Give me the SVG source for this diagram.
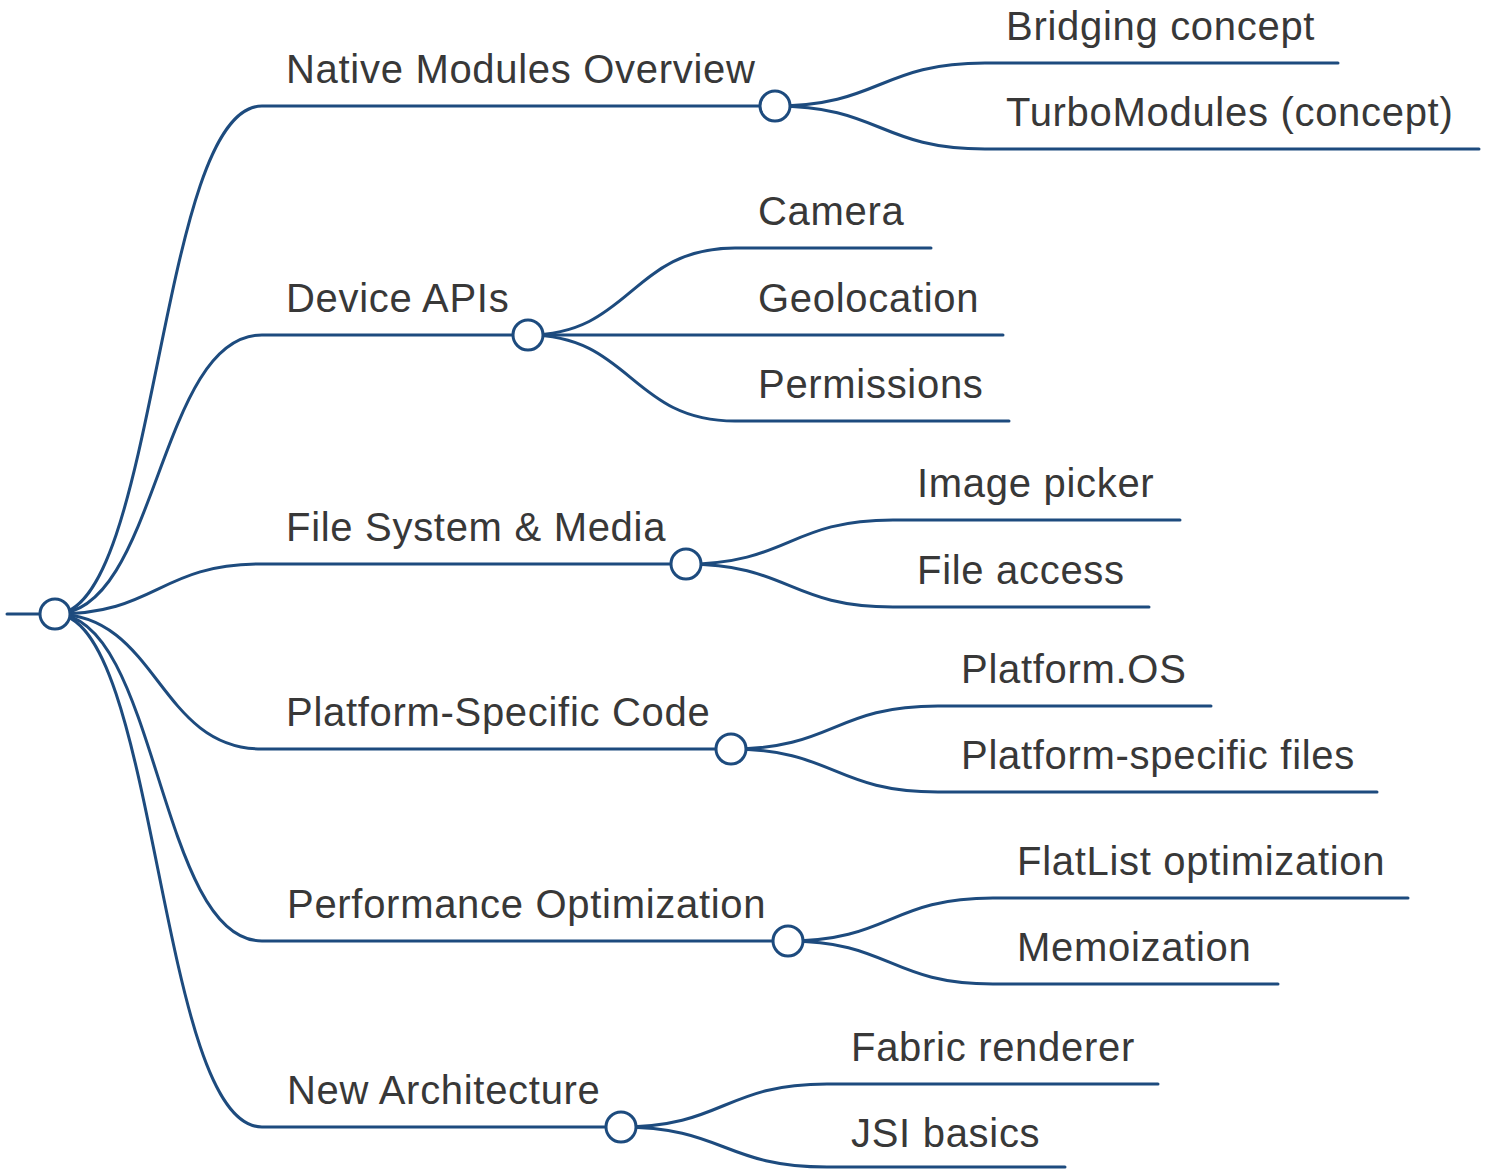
<svg xmlns="http://www.w3.org/2000/svg" width="1491" height="1169" viewBox="0 0 1491 1169">
<style>
.l{fill:none;stroke:#1d4b7e;stroke-width:3;stroke-linecap:round}
.c{fill:#fff;stroke:#1d4b7e;stroke-width:3}
text{font-family:"Liberation Sans",Arial,sans-serif;font-size:40px;letter-spacing:0.7px;fill:#383838}
</style>
<rect width="1491" height="1169" fill="#fff"/>
<g id="connectors">
<path class="l" d="M7 614H55"/>
<path class="l" d="M55 614C158 614 158 106 262 106H775"/>
<path class="l" d="M55 614C158 614 158 335 262 335H528"/>
<path class="l" d="M55 614C158 614 158 564 262 564H686"/>
<path class="l" d="M55 614C158 614 158 749 262 749H731"/>
<path class="l" d="M55 614C158 614 158 941 262 941H788"/>
<path class="l" d="M55 614C158 614 158 1127 262 1127H621"/>
<path class="l" d="M775 106C880 106 880 63 985 63H1338"/>
<path class="l" d="M775 106C880 106 880 149 985 149H1479"/>
<path class="l" d="M528 335C631 335 631 248 735 248H931"/>
<path class="l" d="M528 335H1003"/>
<path class="l" d="M528 335C631 335 631 421 735 421H1009"/>
<path class="l" d="M686 564C789 564 789 520 893 520H1180"/>
<path class="l" d="M686 564C789 564 789 607 893 607H1149"/>
<path class="l" d="M731 749C834 749 834 706 938 706H1211"/>
<path class="l" d="M731 749C834 749 834 792 938 792H1377"/>
<path class="l" d="M788 941C890 941 890 898 993 898H1408"/>
<path class="l" d="M788 941C890 941 890 984 993 984H1278"/>
<path class="l" d="M621 1127C724 1127 724 1084 827 1084H1158"/>
<path class="l" d="M621 1127C724 1127 724 1167 827 1167H1065"/>
</g>
<g id="root"><circle class="c" cx="55" cy="614" r="15"/></g>
<g id="n1"><text x="286" y="83">Native Modules Overview</text><circle class="c" cx="775" cy="106" r="15"/></g>
<g id="n2"><text x="286" y="312">Device APIs</text><circle class="c" cx="528" cy="335" r="15"/></g>
<g id="n3"><text x="286" y="541">File System &amp; Media</text><circle class="c" cx="686" cy="564" r="15"/></g>
<g id="n4"><text x="286" y="726">Platform-Specific Code</text><circle class="c" cx="731" cy="749" r="15"/></g>
<g id="n5"><text x="287" y="918">Performance Optimization</text><circle class="c" cx="788" cy="941" r="15"/></g>
<g id="n6"><text x="287" y="1104">New Architecture</text><circle class="c" cx="621" cy="1127" r="15"/></g>
<g id="n1a"><text x="1006" y="40">Bridging concept</text></g>
<g id="n1b"><text x="1006" y="126">TurboModules (concept)</text></g>
<g id="n2a"><text x="758" y="225">Camera</text></g>
<g id="n2b"><text x="758" y="312">Geolocation</text></g>
<g id="n2c"><text x="758" y="398">Permissions</text></g>
<g id="n3a"><text x="917" y="497">Image picker</text></g>
<g id="n3b"><text x="917" y="584">File access</text></g>
<g id="n4a"><text x="961" y="683">Platform.OS</text></g>
<g id="n4b"><text x="961" y="769">Platform-specific files</text></g>
<g id="n5a"><text x="1017" y="875">FlatList optimization</text></g>
<g id="n5b"><text x="1017" y="961">Memoization</text></g>
<g id="n6a"><text x="851" y="1061">Fabric renderer</text></g>
<g id="n6b"><text x="851" y="1147">JSI basics</text></g>
</svg>
